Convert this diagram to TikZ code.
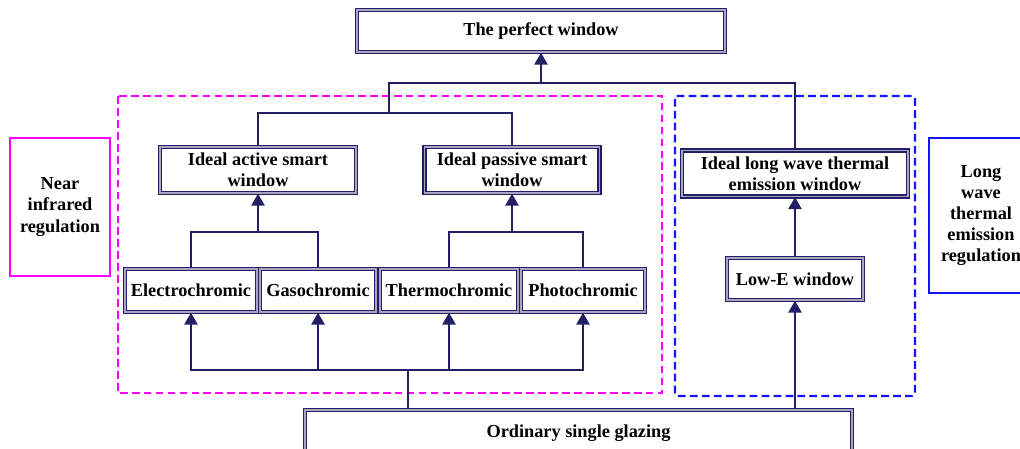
\documentclass[tikz,border=0pt]{standalone}
\usepackage{fontspec}
\setmainfont{Liberation Serif}
\usetikzlibrary{arrows.meta}
\definecolor{navy}{RGB}{35,31,100}
\definecolor{nirpink}{RGB}{255,0,255}
\definecolor{lwblue}{RGB}{20,20,250}

\begin{document}
\begin{tikzpicture}[x=0.025cm,y=-0.025cm,>={Triangle[length=8.5pt,width=9.5pt]},
  main node/.style={draw=navy,double=navy!40,double distance=0.9pt,line width=1pt,fill=white,
    font=\bfseries\fontsize{13}{15}\selectfont,align=center,inner sep=1pt},
  side node/.style={line width=1.4pt,fill=white,font=\bfseries\fontsize{13}{15}\selectfont,
    align=center,inner sep=1pt},
  link/.style={draw=navy,line width=1.1pt},
  group/.style={line width=1.5pt,dash pattern=on 5.5pt off 3pt}]
  \useasboundingbox (0,0) rectangle (1020,448);

  % regions
  \draw[group,nirpink] (118,96) rectangle (662,393);
  \draw[group,lwblue,rounded corners=2pt] (675,96) rectangle (915,396);

  \node[side node,draw=nirpink,minimum width=2.5cm,minimum height=3.45cm] (nir) at (60,207) {Near\\infrared\\regulation};
  \node[side node,draw=lwblue,minimum width=2.6cm,minimum height=3.85cm] (lwr) at (981,215.5) {Long\\wave\\thermal\\emission\\regulation};

  \node[main node,minimum width=9.2cm,minimum height=1.05cm] (top) at (541,31) {The perfect window};
  \node[main node,minimum width=4.9cm,minimum height=1.15cm] (active) at (258,170) {Ideal active smart\\window};
  \node[main node,minimum width=4.375cm,minimum height=1.15cm] (passive) at (512,170) {Ideal passive smart\\window};
  \node[main node,minimum width=5.65cm,minimum height=1.15cm] (longwave) at (795,173.5) {Ideal long wave thermal\\emission window};

  \node[main node,minimum width=3.3cm,minimum height=1.075cm] (ec) at (191,290.5) {Electrochromic};
  \node[main node,minimum width=2.9cm,minimum height=1.075cm] (gc) at (318,290.5) {Gasochromic};
  \node[main node,minimum width=3.45cm,minimum height=1.075cm] (tc) at (449,290.5) {Thermochromic};
  \node[main node,minimum width=3.1cm,minimum height=1.075cm] (pc) at (583,290.5) {Photochromic};
  \node[main node,minimum width=3.4cm,minimum height=1.05cm] (lowe) at (795,279) {Low-E window};

  \node[main node,minimum width=13.675cm,minimum height=1.15cm] (glazing) at (578.5,433) {Ordinary single glazing};

  % bottom level
  \coordinate (split) at (408,370);
  \draw[link] (glazing.north -| split) -- (split);
  \foreach \n in {ec,gc,tc,pc}
    \draw[link,->] (split) -| (\n.south);
  \draw[link,->] (glazing.north -| lowe) -- (lowe.south);

  % middle level
  \coordinate (j1) at (258,232);
  \coordinate (j2) at (512,232);
  \draw[link] (ec.north) |- (j1) -| (gc.north);
  \draw[link] (tc.north) |- (j2) -| (pc.north);
  \draw[link,->] (j1) -- (active.south);
  \draw[link,->] (j2) -- (passive.south);
  \draw[link,->] (lowe.north) -- (longwave.south);

  % top level
  \coordinate (j3) at (541,83);
  \coordinate (j4) at (389,113);
  \draw[link] (active.north) |- (j4) -| (passive.north);
  \draw[link] (j4) -- (j4 |- j3) -| (longwave.north);
  \draw[link,->] (j3) -- (top.south);
\end{tikzpicture}
\end{document}
